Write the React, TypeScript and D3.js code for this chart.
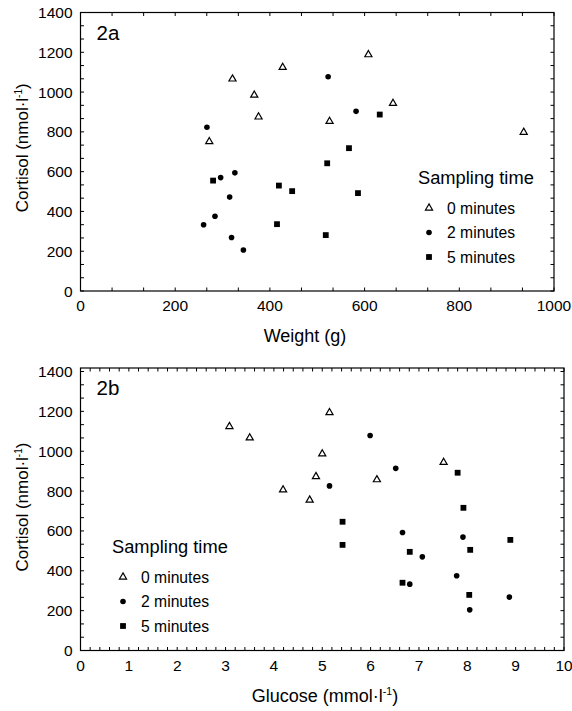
import * as d3 from "d3";
import React, { useEffect, useRef } from "react";

const groups = ["0 minutes", "2 minutes", "5 minutes"];

// Fig 2a: body weight (g) against plasma cortisol (nmol/l)
const weight0 = [272, 321, 367, 376, 427, 526, 608, 660, 936];
const cortisolW0 = [751, 1066, 985, 875, 1124, 853, 1188, 943, 798];
const weight2 = [260, 267, 284, 296, 315, 319, 326, 344, 523, 582];
const cortisolW2 = [333, 823, 376, 570, 472, 269, 594, 206, 1077, 903];
const weight5 = [280, 415, 419, 447, 518, 521, 567, 586, 632];
const cortisolW5 = [555, 336, 530, 502, 281, 642, 718, 492, 887];

// Fig 2b: glucose (mmol/l) against plasma cortisol (nmol/l)
const glucose0 = [3.08, 3.5, 4.19, 4.74, 4.87, 5.0, 5.15, 6.13, 7.51];
const cortisolG0 = [1124, 1067, 806, 755, 873, 987, 1194, 857, 944];
const glucose2 = [5.15, 5.99, 6.52, 6.66, 6.81, 7.07, 7.78, 7.91, 8.05, 8.87];
const cortisolG2 = [826, 1079, 914, 592, 333, 470, 375, 569, 204, 268];
const glucose5 = [5.42, 5.42, 6.66, 6.81, 7.8, 7.92, 8.04, 8.06, 8.89];
const cortisolG5 = [646, 530, 340, 495, 892, 716, 279, 505, 555];

const cortisolTicks = [0, 200, 400, 600, 800, 1000, 1200, 1400];
const weightTicks = [0, 200, 400, 600, 800, 1000];
const glucoseTicks = [0, 1, 2, 3, 4, 5, 6, 7, 8, 9, 10];

const FONT = "'Liberation Sans', Arial, Helvetica, sans-serif";

const zip = (xs, ys) => xs.map((x, i) => ({ x, y: ys[i] }));

function drawPanel(svg, opts) {
  const { x, y, frameTop, xTicks, xMinor, yMinor, label, xTitle, xTitleX, series, legend } = opts;
  const g = svg.append("g");
  const [x0, x1] = x.range();
  const y0 = y.range()[0];

  // frame
  g.append("rect")
    .attr("x", x0).attr("y", frameTop)
    .attr("width", x1 - x0).attr("height", y0 - frameTop)
    .attr("fill", "none").attr("stroke", "#000").attr("stroke-width", 1.2);

  // inward ticks on all four sides
  const tickLen = 3.5;
  const xs = d3.range(x.domain()[0], x.domain()[1] + 1e-9, xMinor);
  const ys = d3.range(0, 1400 + 1e-9, yMinor);
  g.selectAll(".xt").data(xs).join("path")
    .attr("d", d => `M${x(d)},${y0}v${-tickLen}M${x(d)},${frameTop}v${tickLen}`)
    .attr("stroke", "#000").attr("stroke-width", 1);
  g.selectAll(".yt").data(ys).join("path")
    .attr("d", d => `M${x0},${y(d)}h${tickLen}M${x1},${y(d)}h${-tickLen}`)
    .attr("stroke", "#000").attr("stroke-width", 1);

  // tick labels
  g.selectAll(".xl").data(xTicks).join("text")
    .attr("x", d => x(d)).attr("y", y0 + 20)
    .attr("text-anchor", "middle")
    .style("font-size", "15.5px")
    .text(d => d);
  g.selectAll(".yl").data(cortisolTicks).join("text")
    .attr("x", x0 - 8).attr("y", d => y(d) + 5.5)
    .attr("text-anchor", "end")
    .style("font-size", "15.5px")
    .text(d => d);

  // axis titles
  const xt = g.append("text")
    .attr("x", xTitleX).attr("y", y0 + 51)
    .attr("text-anchor", "middle")
    .style("font-size", "18px");
  xt.append("tspan").text(xTitle[0]);
  if (xTitle.length > 1) {
    xt.append("tspan").attr("dy", -7).style("font-size", "10.5px").text(xTitle[1]);
    xt.append("tspan").attr("dy", 7).text(")");
  }

  const yt = g.append("text")
    .attr("transform", `translate(28,${(y(0) + y(1400)) / 2 - 4}) rotate(-90)`)
    .attr("text-anchor", "middle")
    .style("font-size", "17px");
  yt.append("tspan").text("Cortisol (nmol\u00b7l");
  yt.append("tspan").attr("dy", -6.5).style("font-size", "10px").text("-1");
  yt.append("tspan").attr("dy", 6.5).text(")");

  // panel label
  g.append("text")
    .attr("x", x0 + 16).attr("y", frameTop + 27)
    .style("font-size", "20.5px")
    .text(label);

  // markers
  const tri = d3.symbol().type(d3.symbolTriangle).size(22);
  const [s0, s1, s2] = series;
  g.selectAll(".p0").data(s0).join("path")
    .attr("transform", d => `translate(${x(d.x)},${y(d.y)})`)
    .attr("d", tri())
    .attr("fill", "#fff").attr("stroke", "#000").attr("stroke-width", 1.2);
  g.selectAll(".p1").data(s1).join("circle")
    .attr("cx", d => x(d.x)).attr("cy", d => y(d.y)).attr("r", 2.8)
    .attr("fill", "#000");
  g.selectAll(".p2").data(s2).join("rect")
    .attr("x", d => x(d.x) - 2.9).attr("y", d => y(d.y) - 2.9)
    .attr("width", 5.8).attr("height", 5.8)
    .attr("fill", "#000");

  // legend
  const lg = g.append("g").attr("transform", `translate(${legend[0]},${legend[1]})`);
  lg.append("text").attr("x", 0).attr("y", 0)
    .style("font-size", "18.3px").text("Sampling time");
  groups.forEach((name, i) => {
    const cy = 24 + i * 24.5;
    const sx = 11;
    if (i === 0) {
      lg.append("path").attr("transform", `translate(${sx},${cy})`).attr("d", tri())
        .attr("fill", "#fff").attr("stroke", "#000").attr("stroke-width", 1.2);
    } else if (i === 1) {
      lg.append("circle").attr("cx", sx).attr("cy", cy).attr("r", 2.8).attr("fill", "#000");
    } else {
      lg.append("rect").attr("x", sx - 2.9).attr("y", cy - 2.9)
        .attr("width", 5.8).attr("height", 5.8).attr("fill", "#000");
    }
    lg.append("text").attr("x", 29).attr("y", cy + 5.5)
      .style("font-size", "15.7px").text(name);
  });
}

export default function App() {
  const svgRef = useRef(null);

  useEffect(() => {
    const svg = d3.select(svgRef.current);
    svg.selectAll("*").remove();
    svg.style("font-family", FONT).attr("fill", "#000");

    // 2a
    const xA = d3.scaleLinear().domain([0, 1000]).range([80.5, 554]);
    const yA = d3.scaleLinear().domain([0, 1400]).range([291, 12.5]);
    drawPanel(svg, {
      x: xA, y: yA, frameTop: 12.5,
      xTicks: weightTicks, xMinor: 200 / 3, yMinor: 200 / 3,
      label: "2a", xTitle: ["Weight (g)"], xTitleX: 305,
      series: [zip(weight0, cortisolW0), zip(weight2, cortisolW2), zip(weight5, cortisolW5)],
      legend: [418, 184],
    });

    // 2b
    const xB = d3.scaleLinear().domain([0, 10]).range([80.5, 564]);
    const yB = d3.scaleLinear().domain([0, 1400]).range([650.5, 371.5]);
    drawPanel(svg, {
      x: xB, y: yB, frameTop: 368,
      xTicks: glucoseTicks, xMinor: 0.2, yMinor: 200 / 3,
      label: "2b", xTitle: ["Glucose (mmol\u00b7l", "-1"], xTitleX: 325,
      series: [zip(glucose0, cortisolG0), zip(glucose2, cortisolG2), zip(glucose5, cortisolG5)],
      legend: [112, 553],
    });
  }, []);

  return (
    <svg
      ref={svgRef}
      width={572}
      height={711}
      style={{ position: "absolute", left: 0, top: 0, background: "#fff" }}
    />
  );
}
